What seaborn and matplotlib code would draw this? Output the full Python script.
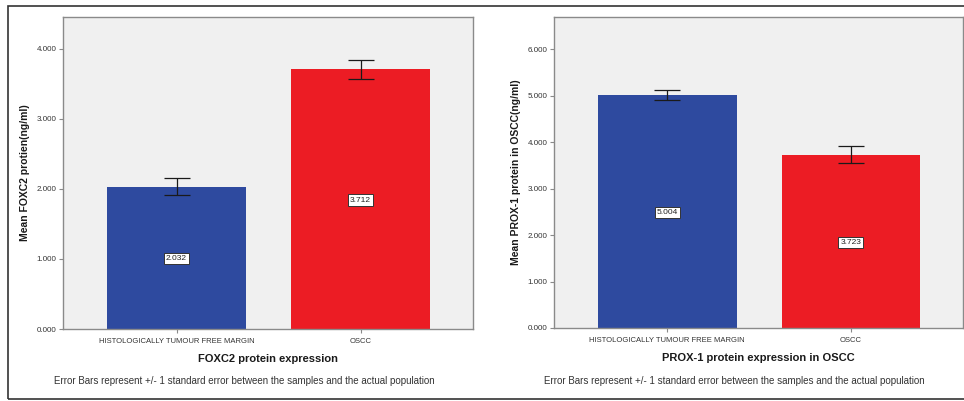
import matplotlib
matplotlib.use("Agg")
import matplotlib.pyplot as plt
import seaborn as sns
import pandas as pd
from matplotlib.patches import Rectangle

# ---- data ----
groups = ["HISTOLOGICALLY TUMOUR FREE MARGIN", "OSCC"]
foxc2_means = [2.032, 3.712]
foxc2_se = [0.122, 0.136]
prox1_means = [5.004, 3.723]
prox1_se = [0.108, 0.183]
foxc2_ticks = [0, 1, 2, 3, 4]
prox1_ticks = [0, 1, 2, 3, 4, 5, 6]

sns.set_theme(style="white")
plt.rcParams["font.family"] = ["Liberation Sans", "DejaVu Sans"]

BLUE = "#2E4A9F"
RED = "#EC1C24"
BG = "#F0F0F0"
SPINE = "#8A8A8A"

fig = plt.figure(figsize=(9.64, 4.01), dpi=100)
fig.patch.set_facecolor("white")

W, H = 964.0, 401.0
panels = [
    dict(rect=[63 / W, 1 - 329 / H, 410 / W, 312 / H], means=foxc2_means, se=foxc2_se,
         ticks=foxc2_ticks, ymax=4.457, ylabel="Mean FOXC2 protien(ng/ml)",
         xlabel="FOXC2 protein expression", note_x=244 / W),
    dict(rect=[554 / W, 1 - 328 / H, 409 / W, 311 / H], means=prox1_means, se=prox1_se,
         ticks=prox1_ticks, ymax=6.69, ylabel="Mean PROX-1 protein in OSCC(ng/ml)",
         xlabel="PROX-1 protein expression in OSCC", note_x=734 / W),
]

for p in panels:
    ax = fig.add_axes(p["rect"])
    ax.set_facecolor(BG)
    df = pd.DataFrame({"group": groups, "mean": p["means"]})
    sns.barplot(data=df, x="group", y="mean", hue="group", palette=[BLUE, RED],
                width=0.755, legend=False, ax=ax, saturation=1, errorbar=None,
                edgecolor="none")
    ax.errorbar(range(len(groups)), p["means"], yerr=p["se"], fmt="none",
                ecolor="#1a1a1a", elinewidth=0.9, capsize=9.5, capthick=0.9)
    for i, m in enumerate(p["means"]):
        ax.text(i, m / 2, f"{m:.3f}", ha="center", va="center_baseline", fontsize=6,
                color="#222222",
                bbox=dict(boxstyle="square,pad=0.25", fc="white", ec="#333333", lw=0.7))
    ax.set_xlim(-0.617, 1.611)
    ax.set_ylim(0, p["ymax"])
    ax.set_yticks(p["ticks"])
    ax.set_yticklabels([f"{t:.3f}" for t in p["ticks"]])
    ax.tick_params(axis="y", direction="out", length=3, width=0.8, color=SPINE,
                   labelsize=5.8, labelcolor="#333333", pad=1.5, left=True)
    ax.tick_params(axis="x", direction="out", length=3, width=0.8, color=SPINE,
                   labelsize=5.5, labelcolor="#333333", pad=3.5, bottom=True)
    for s in ax.spines.values():
        s.set_color(SPINE)
        s.set_linewidth(1.0)
        s.set_visible(True)
    ax.set_xlabel(p["xlabel"], fontsize=8, fontweight="bold", color="#1a1a1a", labelpad=6.5)
    ax.set_ylabel(p["ylabel"], fontsize=7.5, fontweight="bold", color="#1a1a1a", labelpad=5)
    fig.text(p["note_x"], 1 - 381 / H,
             "Error Bars represent +/- 1 standard error between the samples and the actual population",
             ha="center", va="center", fontsize=7, color="#333333")

# outer frame
fig.add_artist(Rectangle((8 / W, 1 - 399 / H), 1.0, (399 - 6) / H, transform=fig.transFigure,
                         fill=False, ec="#333333", lw=1.2, clip_on=False))

fig.savefig("out.png", dpi=100, facecolor="white")
